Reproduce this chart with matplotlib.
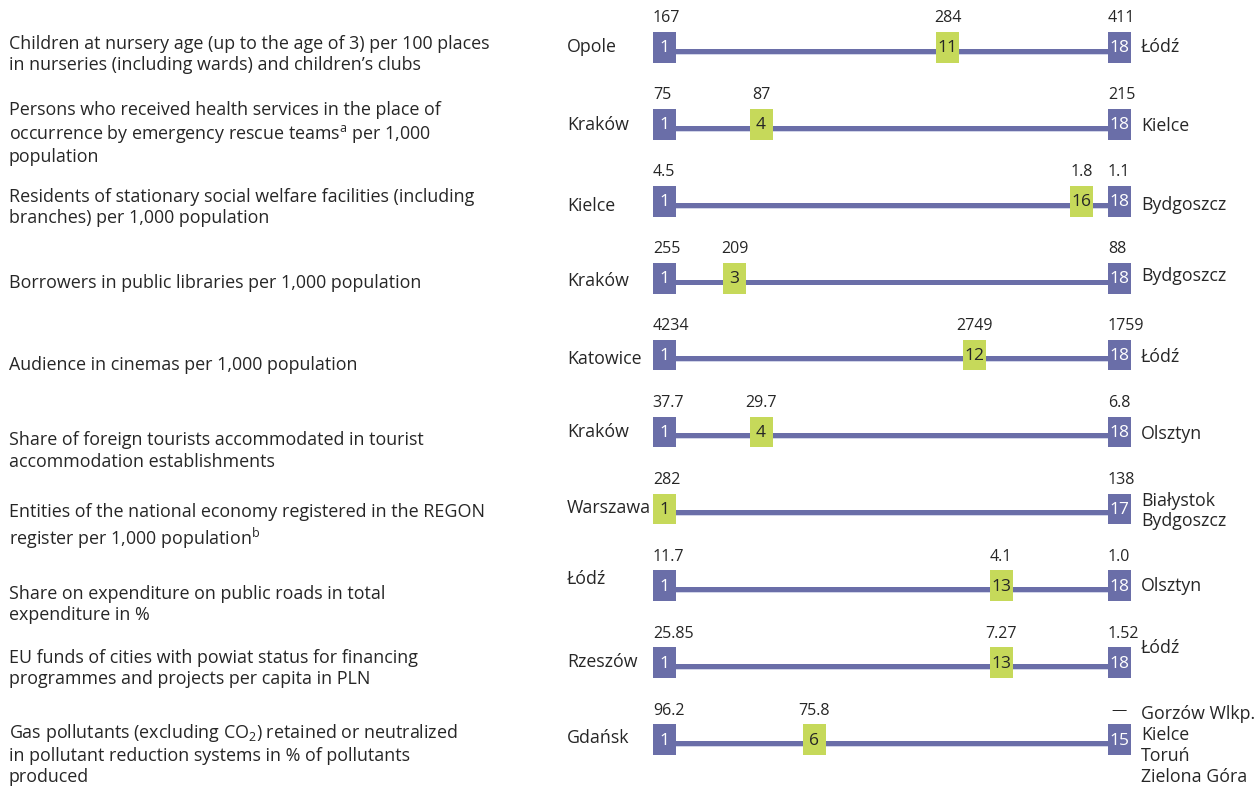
import matplotlib.pyplot as plt
from matplotlib.patches import Rectangle

plt.rcParams['font.family'] = ['Open Sans', 'DejaVu Sans']
plt.rcParams['mathtext.fontset'] = 'custom'
plt.rcParams['mathtext.rm'] = 'Open Sans'

# DATA

indicators = [
    "Children at nursery age (up to the age of 3) per 100 places\nin nurseries (including wards) and children’s clubs",
    "Persons who received health services in the place of\noccurrence by emergency rescue teams$^{\\mathrm{a}}$ per 1,000\npopulation",
    "Residents of stationary social welfare facilities (including\nbranches) per 1,000 population",
    "Borrowers in public libraries per 1,000 population",
    "Audience in cinemas per 1,000 population",
    "Share of foreign tourists accommodated in tourist\naccommodation establishments",
    "Entities of the national economy registered in the REGON\nregister per 1,000 population$^{\\mathrm{b}}$",
    "Share on expenditure on public roads in total\nexpenditure in %",
    "EU funds of cities with powiat status for financing\nprogrammes and projects per capita in PLN",
    "Gas pollutants (excluding CO$_2$) retained or neutralized\nin pollutant reduction systems in % of pollutants\nproduced",
]

best_city = ["Opole", "Kraków", "Kielce", "Kraków", "Katowice",
             "Kraków", "Warszawa", "Łódź", "Rzeszów", "Gdańsk"]
best_value = ["167", "75", "4.5", "255", "4234", "37.7", "282", "11.7", "25.85", "96.2"]

city_rank = [11, 4, 16, 3, 12, 4, 1, 13, 13, 6]
city_value = ["284", "87", "1.8", "209", "2749", "29.7", "282", "4.1", "7.27", "75.8"]

worst_rank = [18, 18, 18, 18, 18, 18, 17, 18, 18, 15]
worst_value = ["411", "215", "1.1", "88", "1759", "6.8", "138", "1.0", "1.52", "—"]
worst_city = ["Łódź", "Kielce", "Bydgoszcz", "Bydgoszcz", "Łódź", "Olsztyn",
              "Białystok\nBydgoszcz", "Olsztyn", "Łódź",
              "Gorzów Wlkp.\nKielce\nToruń\nZielona Góra"]

# LAYOUT (pixels)

W, H = 1257, 786
X0, UNIT = 654.4, 26.68      # pixel of rank 0, pixels per rank
Y0, ROW = 47.5, 76.9         # pixel of first row, pixels per row
LEFT_END, RIGHT_END = 0.37, 17.43   # where the end boxes sit on the rank scale
BOX_W, BOX_H = 23 / UNIT, 30.7 / ROW

label_dy = [7, 9, 6, 5, 10, 19, 18, 19, 6, 14]
best_dy = [0, 1, 5, 3, 4, 0, -1, -7, -1, -2]
worst_dy = [0, 2, 4, -2, 2, 2, 2, 0, -15, 6]

BLUE = "#6A6EA8"
GREEN = "#C6D95A"
LIGHT = "#CDD0E6"
TEXT = "#262626"


def px(x):
    return (x - X0) / UNIT


def py(dy):
    return dy / ROW


fig = plt.figure(figsize=(W / 100, H / 100), dpi=100)
ax = fig.add_axes([0, 0, 1, 1])
ax.set_xlim(px(0), px(W))
ax.set_ylim((H - Y0) / ROW, -Y0 / ROW)
ax.axis('off')


def box(x, row, color, label, txtcolor):
    ax.add_patch(Rectangle((x - BOX_W / 2, row - BOX_H / 2), BOX_W, BOX_H,
                           facecolor=color, edgecolor='none', zorder=3))
    ax.text(x, row + py(1), label, ha='center', va='center', fontsize=12.5,
            color=txtcolor, zorder=4)


for i in range(len(indicators)):
    # indicator name
    ax.text(px(9), i + py(label_dy[i]), indicators[i], ha='left', va='center',
            fontsize=12.9, color=TEXT, linespacing=1.22)

    # scale line
    ax.plot([LEFT_END, RIGHT_END], [i + py(3.3), i + py(3.3)], color=BLUE,
            lw=3.6, solid_capstyle='butt', zorder=1)
    ax.plot([LEFT_END, RIGHT_END], [i + py(6.2), i + py(6.2)], color=LIGHT,
            lw=1.3, solid_capstyle='butt', zorder=0.5)

    # best
    if city_rank[i] == 1:
        box(LEFT_END, i, GREEN, "1", TEXT)
    else:
        box(LEFT_END, i, BLUE, "1", "white")
    ax.text(LEFT_END - BOX_W / 2, i - py(29), best_value[i], ha='left',
            va='center', fontsize=11.5, color=TEXT)
    ax.text(px(567), i + py(best_dy[i]), best_city[i], ha='left', va='center',
            fontsize=12.8, color=TEXT)

    # worst
    box(RIGHT_END, i, BLUE, str(worst_rank[i]), "white")
    if worst_value[i] == "—":
        ax.text(RIGHT_END, i - py(29), worst_value[i], ha='center',
                va='center', fontsize=11, color=TEXT)
    else:
        ax.text(RIGHT_END - BOX_W / 2, i - py(29), worst_value[i], ha='left',
                va='center', fontsize=11.5, color=TEXT)
    ax.text(px(1141), i + py(worst_dy[i]), worst_city[i], ha='left',
            va='center', fontsize=12.8, color=TEXT, linespacing=1.2)

    # the city
    if city_rank[i] > 1:
        box(city_rank[i], i, GREEN, str(city_rank[i]), TEXT)
        ax.text(city_rank[i], i - py(29), city_value[i], ha='center',
                va='center', fontsize=11.5, color=TEXT)

plt.savefig("out.png", dpi=100)
